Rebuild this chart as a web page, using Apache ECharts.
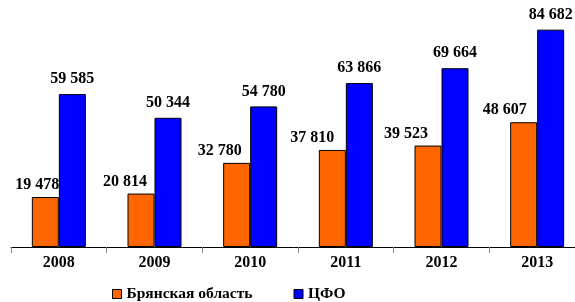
<!DOCTYPE html>
<html>
<head>
<meta charset="utf-8">
<script src="https://cdn.jsdelivr.net/npm/echarts@6/dist/echarts.min.js"></script>
<style>html,body{margin:0;padding:0;background:#fff}#c{width:575px;height:302px}</style>
</head>
<body>
<div id="c"></div>
<script>
var categories = ['2008', '2009', '2010', '2011', '2012', '2013'];
var seriesNames = ['Брянская область', 'ЦФО'];
var bryansk = [19478, 20814, 32780, 37810, 39523, 48607];
var cfo = [59585, 50344, 54780, 63866, 69664, 84682];
// horizontal label shifts of the orange series labels (as placed in the reference)
var bryanskLabelShift = [-8, -16, -17, -20, -22, -19];

function fmt(v) {
  return String(v).replace(/\B(?=(\d{3})+(?!\d))/g, ' ');
}
var font = '"Liberation Serif", "Times New Roman", serif';

var chart = echarts.init(document.getElementById('c'), null, {renderer: 'canvas'});
chart.setOption({
  animation: false,
  textStyle: {fontFamily: font},
  grid: {left: 11, top: 16, bottom: 55, width: 574, outerBoundsMode: 'none', containLabel: false},
  legend: {
    data: seriesNames,
    left: 107, top: 281,
    icon: 'rect', itemWidth: 9, itemHeight: 9, itemGap: 41,
    textStyle: {fontFamily: font, fontWeight: 'bold', fontSize: 15.5, color: '#000'},
    itemStyle: {borderColor: '#000', borderWidth: 1}
  },
  xAxis: {
    type: 'category',
    data: categories,
    axisLine: {lineStyle: {color: '#000', width: 1}},
    axisTick: {show: true, length: 6, lineStyle: {color: '#888'}},
    axisLabel: {color: '#000', fontFamily: font, fontWeight: 'bold', fontSize: 16, margin: 8}
  },
  yAxis: {type: 'value', min: 0, max: 90000, show: false, splitLine: {show: false}},
  series: [
    {
      name: seriesNames[0], type: 'bar', barWidth: 27, barGap: '0%',
      itemStyle: {color: '#FF6600', borderColor: '#000', borderWidth: 1},
      data: bryansk.map(function (v, i) {
        return {value: v, label: {offset: [bryanskLabelShift[i], 0]}};
      }),
      label: {show: true, position: 'top', distance: 4, formatter: function (p) { return fmt(p.value); },
        fontFamily: font, fontWeight: 'bold', fontSize: 16, color: '#000'}
    },
    {
      name: seriesNames[1], type: 'bar', barWidth: 27, barGap: '0%',
      itemStyle: {color: '#0000FF', borderColor: '#000', borderWidth: 1},
      data: cfo,
      label: {show: true, position: 'top', distance: 7, formatter: function (p) { return fmt(p.value); },
        fontFamily: font, fontWeight: 'bold', fontSize: 16, color: '#000'}
    }
  ]
});
</script>
</body>
</html>
